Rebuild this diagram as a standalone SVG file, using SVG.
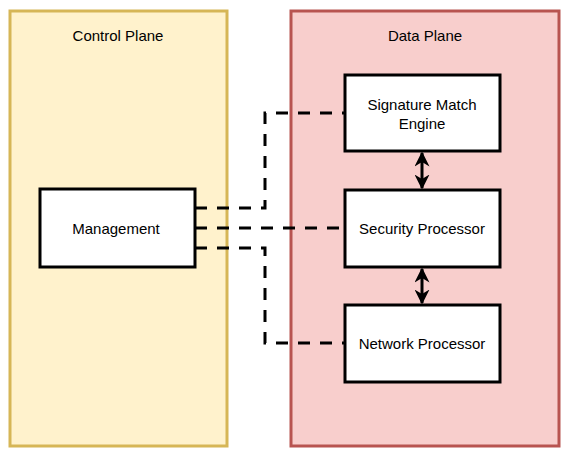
<svg xmlns="http://www.w3.org/2000/svg" width="569" height="456" viewBox="0 0 569 456">
<defs>
<style>
text{font-family:"Liberation Sans",Arial,sans-serif;font-size:15px;fill:#000;text-anchor:middle;dominant-baseline:central}
.node{fill:#fff;stroke:#000;stroke-width:3}
.dash{fill:none;stroke:#000;stroke-width:3;stroke-dasharray:12 10}
.arr{fill:none;stroke:#000;stroke-width:3;marker-start:url(#ah);marker-end:url(#ah)}
</style>
<marker id="ah" viewBox="0 0 10 10" refX="9" refY="5" markerWidth="5" markerHeight="5" orient="auto-start-reverse" markerUnits="strokeWidth">
<path d="M0,0 L10,5 L0,10 L3,5 Z" fill="#000"/>
</marker>
</defs>
<g id="control-plane">
<rect x="10" y="11" width="217" height="435" fill="#fff2cc" stroke="#d6b656" stroke-width="3"/>
<text x="118" y="35">Control Plane</text>
</g>
<g id="data-plane">
<rect x="291" y="11" width="268" height="435" fill="#f8cecc" stroke="#b85450" stroke-width="3"/>
<text x="425" y="35">Data Plane</text>
</g>
<g id="connectors">
<path class="dash" d="M195,208 H265 V113 H345"/>
<path class="dash" d="M195,228 H345"/>
<path class="dash" d="M195,248 H265 V343 H345"/>
<path class="arr" d="M422,153 V188"/>
<path class="arr" d="M422,269 V303"/>
</g>
<g id="management">
<rect class="node" x="40" y="189" width="155" height="78"/>
<text x="116" y="228">Management</text>
</g>
<g id="signature-match-engine">
<rect class="node" x="345" y="75" width="155" height="76"/>
<text x="422" y="104">Signature Match</text>
<text x="422" y="123">Engine</text>
</g>
<g id="security-processor">
<rect class="node" x="345" y="190" width="155" height="77"/>
<text x="422" y="228">Security Processor</text>
</g>
<g id="network-processor">
<rect class="node" x="345" y="305" width="155" height="77"/>
<text x="422" y="343">Network Processor</text>
</g>
</svg>
